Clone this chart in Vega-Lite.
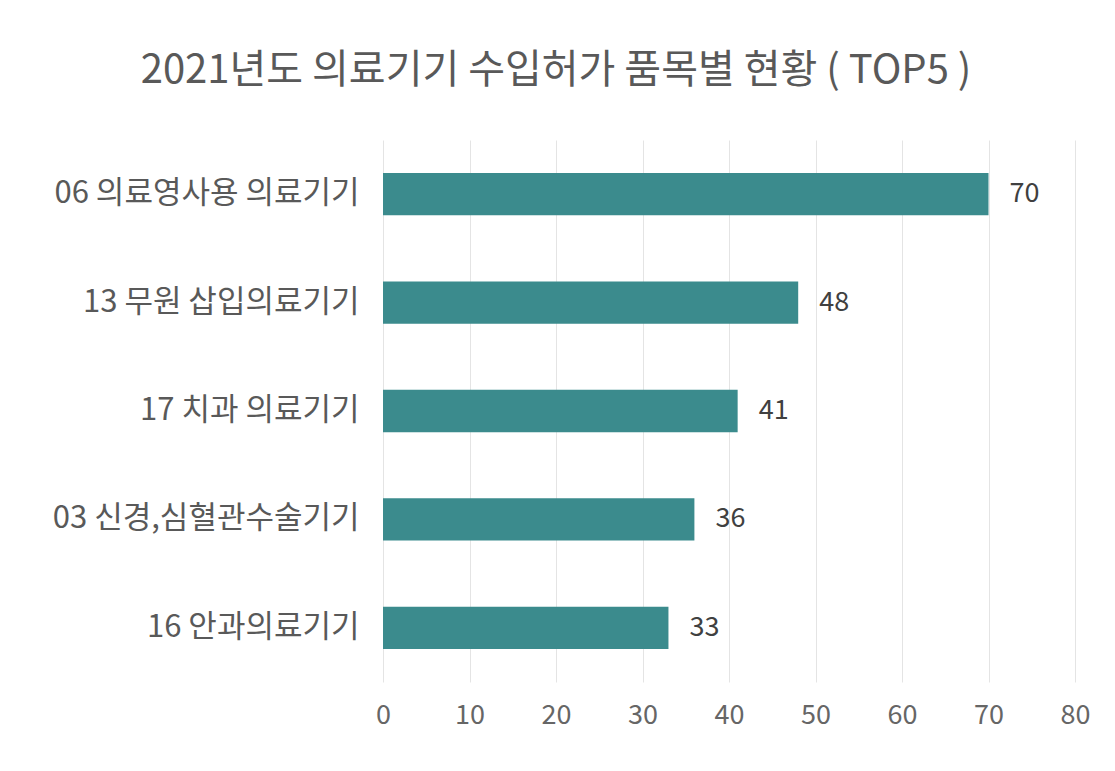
{
  "$schema": "https://vega.github.io/schema/vega-lite/v6.json",
  "autosize": "none",
  "width": 692,
  "height": 542,
  "padding": {"left": 383, "top": 140, "right": 40, "bottom": 89},
  "background": "white",
  "config": {
    "view": {"stroke": null},
    "font": "Noto Sans CJK KR"
  },
  "title": {
    "text": "2021년도 의료기기 수입허가 품목별 현황 ( TOP5 )",
    "fontSize": 40,
    "fontWeight": "normal",
    "color": "#595959",
    "font": "Noto Sans CJK KR",
    "anchor": "middle",
    "dx": -173,
    "offset": 49
  },
  "data": {
    "values": [
      {"item": "06 의료영사용 의료기기", "count": 70},
      {"item": "13 무원 삽입의료기기", "count": 48},
      {"item": "17 치과 의료기기", "count": 41},
      {"item": "03 신경,심혈관수술기기", "count": 36},
      {"item": "16 안과의료기기", "count": 33}
    ]
  },
  "encoding": {
    "y": {
      "field": "item",
      "type": "nominal",
      "sort": null,
      "title": null,
      "scale": {"paddingInner": 0.61, "paddingOuter": 0.305},
      "axis": {
        "ticks": false,
        "domain": false,
        "labelFontSize": 31,
        "labelColor": "#595959",
        "labelPadding": 24,
        "labelFont": "Noto Sans CJK KR",
        "labelLimit": 400
      }
    },
    "x": {
      "field": "count",
      "type": "quantitative",
      "title": null,
      "scale": {"domain": [0, 80]},
      "axis": {
        "values": [0, 10, 20, 30, 40, 50, 60, 70, 80],
        "domain": false,
        "ticks": false,
        "grid": true,
        "gridColor": "#e4e4e4",
        "gridWidth": 1,
        "labelFlush": false,
        "labelFontSize": 27,
        "labelColor": "#666666",
        "labelPadding": 20,
        "labelFont": "Noto Sans CJK KR"
      }
    }
  },
  "layer": [
    {"mark": {"type": "bar", "color": "#3b8b8d"}},
    {
      "mark": {"type": "text", "align": "left", "dx": 21, "fontSize": 27, "color": "#404040", "font": "Noto Sans CJK KR"},
      "encoding": {"text": {"field": "count", "type": "quantitative"}}
    }
  ]
}
